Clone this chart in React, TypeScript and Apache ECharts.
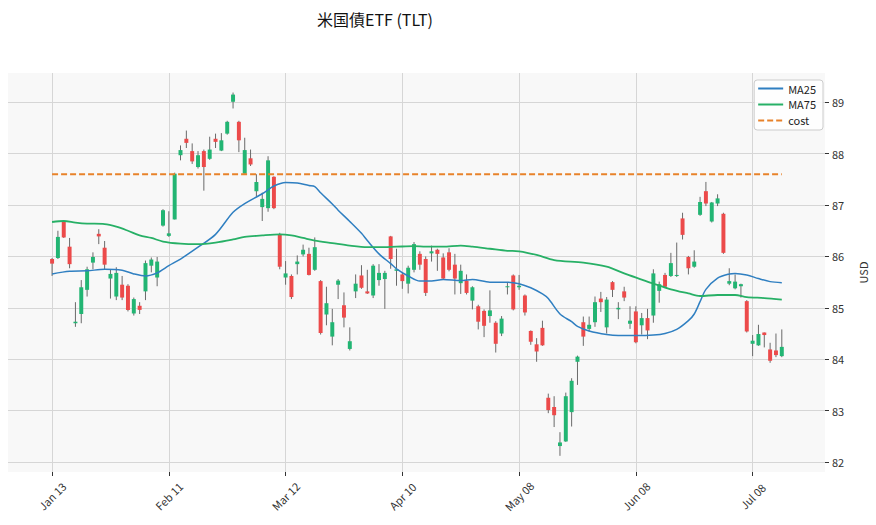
import React, { useEffect, useRef } from "react";
import * as echarts from "echarts";

// ---- data ----
const tickIdx = [0, 20, 40, 60, 80, 100, 120];
const tickLabels = ["Jan 13", "Feb 11", "Mar 12", "Apr 10", "May 08", "Jun 08", "Jul 08"];
const yTicks = [82, 83, 84, 85, 86, 87, 88, 89];

const opens = [
  85.95, 85.97, 86.67, 86.19, 84.70, 84.88, 85.35, 85.88, 86.44, 86.17,
  85.57, 85.22, 85.45, 85.43, 84.89, 85.04, 85.32, 85.82, 85.59, 86.60,
  86.40, 86.72, 87.97, 88.29, 88.05, 87.74, 88.05, 87.90, 88.29, 88.06,
  88.39, 89.01, 88.62, 87.61, 87.91, 87.27, 86.96, 86.94, 87.55, 86.43,
  85.59, 85.62, 85.85, 86.04, 86.05, 85.74, 85.52, 84.87, 84.44, 85.45,
  85.05, 84.20, 85.32, 85.63, 85.32, 85.24, 85.54, 85.56, 86.39, 85.72,
  85.65, 85.47, 85.74, 86.05, 85.95, 86.06, 86.13, 85.98, 86.08, 85.84,
  85.48, 85.53, 85.14, 85.03, 84.94, 84.84, 84.71, 84.50, 85.40, 85.63,
  85.40, 85.24, 84.55, 84.29, 84.61, 83.25, 83.07, 82.31, 82.40, 82.97,
  83.95, 84.72, 84.59, 84.72, 85.18, 84.62, 85.50, 84.97, 85.32, 84.69,
  84.93, 84.66, 84.80, 84.85, 85.33, 85.64, 85.62, 85.62, 86.74, 85.99,
  85.80, 86.81, 87.27, 86.68, 87.03, 86.83, 85.47, 85.38, 85.42, 85.13,
  84.30, 84.27, 84.52, 84.19, 84.17, 84.06,
];
const highs = [
  85.97, 86.50, 86.69, 86.36, 85.11, 85.54, 85.80, 86.08, 86.53, 86.30,
  85.75, 85.79, 85.62, 85.46, 85.20, 85.11, 85.92, 85.98, 85.99, 86.92,
  86.88, 87.63, 88.16, 88.45, 88.20, 88.05, 88.08, 88.33, 88.39, 88.40,
  88.64, 89.19, 88.64, 88.31, 88.08, 87.60, 87.24, 87.95, 87.56, 86.46,
  85.91, 85.65, 86.02, 86.23, 86.17, 86.37, 85.54, 85.41, 84.98, 85.56,
  85.30, 84.62, 85.65, 85.83, 85.74, 85.85, 85.85, 85.72, 86.40, 86.15,
  85.69, 85.82, 86.28, 86.10, 86.00, 86.21, 86.15, 86.06, 86.16, 86.05,
  85.84, 85.65, 85.42, 85.06, 84.97, 85.34, 84.74, 84.84, 85.50, 85.65,
  85.64, 85.26, 84.56, 84.41, 84.75, 83.33, 83.28, 82.58, 83.35, 83.63,
  84.07, 84.83, 84.83, 85.22, 85.31, 85.21, 85.52, 85.11, 85.41, 85.03,
  85.03, 84.90, 84.98, 85.75, 85.51, 85.68, 86.07, 86.27, 86.85, 86.01,
  86.12, 87.16, 87.45, 87.06, 87.21, 86.85, 85.77, 85.65, 85.47, 85.15,
  84.47, 84.67, 84.52, 84.32, 84.50, 84.58,
];
const lows = [
  85.62, 85.95, 86.36, 85.77, 84.63, 84.70, 85.22, 85.75, 86.24, 85.75,
  85.18, 85.15, 85.15, 84.93, 84.85, 84.88, 85.15, 85.69, 85.42, 86.58,
  86.38, 86.72, 87.87, 88.11, 87.80, 87.71, 87.28, 87.88, 88.11, 88.05,
  88.37, 88.88, 88.03, 87.61, 87.76, 87.16, 86.69, 86.87, 86.92, 85.75,
  85.45, 85.17, 85.65, 86.00, 85.63, 85.72, 84.48, 84.66, 84.27, 85.17,
  84.62, 84.17, 85.19, 85.37, 85.27, 85.19, 85.43, 84.98, 85.76, 85.43,
  85.37, 85.28, 85.69, 85.74, 85.23, 85.90, 85.72, 85.55, 85.71, 85.26,
  85.27, 85.26, 84.97, 84.58, 84.43, 84.71, 84.13, 84.45, 85.26, 84.95,
  85.35, 84.85, 84.28, 83.95, 84.26, 82.95, 82.68, 82.12, 82.39, 82.69,
  83.50, 84.26, 84.54, 84.63, 84.92, 84.50, 85.21, 84.78, 85.13, 84.59,
  84.31, 84.48, 84.39, 84.71, 85.10, 85.39, 85.60, 85.60, 86.33, 85.65,
  85.78, 86.79, 86.98, 86.66, 86.98, 86.05, 85.44, 85.36, 85.20, 84.52,
  84.06, 84.26, 84.23, 83.93, 84.04, 84.04,
];
const closes = [
  85.86, 86.38, 86.37, 85.85, 84.73, 85.40, 85.75, 85.99, 86.39, 85.84,
  85.66, 85.68, 85.20, 84.96, 85.17, 84.96, 85.87, 85.94, 85.90, 86.90,
  86.45, 87.61, 88.07, 88.21, 87.85, 87.97, 87.74, 88.08, 88.23, 88.26,
  88.62, 89.15, 88.26, 88.07, 87.79, 87.45, 87.12, 87.87, 86.94, 85.80,
  85.67, 85.21, 85.90, 86.13, 85.64, 86.18, 84.51, 85.09, 84.72, 85.53,
  84.81, 84.35, 85.47, 85.39, 85.28, 85.82, 85.68, 85.68, 85.95, 85.75,
  85.52, 85.78, 86.24, 85.84, 85.29, 86.10, 86.05, 85.57, 85.74, 85.57,
  85.72, 85.29, 85.40, 84.73, 84.65, 84.95, 84.30, 84.79, 85.42, 84.97,
  85.43, 84.91, 84.34, 84.15, 84.27, 83.01, 82.91, 82.38, 83.28, 83.58,
  84.05, 84.44, 84.67, 85.11, 85.11, 85.16, 85.35, 85.00, 85.20, 84.75,
  84.33, 84.80, 84.56, 85.67, 85.46, 85.41, 85.87, 85.64, 86.42, 85.77,
  85.90, 87.06, 87.03, 87.05, 87.13, 86.07, 85.52, 85.51, 85.46, 84.54,
  84.36, 84.49, 84.47, 83.97, 84.08, 84.24,
];

// moving averages read at sampled positions (trading-day index)
const ma25Idx = [0, 3, 6, 9, 12, 14, 16, 18, 20, 22, 25, 28, 31, 33, 36, 38, 40, 42, 44, 45, 46, 48, 49, 51, 53, 54, 56, 58, 59, 61, 63, 65, 67, 70, 72, 75, 78, 80, 82, 84, 85, 87, 89, 90, 92, 95, 97, 100, 103, 105, 107, 109, 110, 111, 112, 114, 116, 117, 119, 121, 123, 125];
const ma25Val = [85.66, 85.71, 85.72, 85.75, 85.73, 85.66, 85.62, 85.68, 85.82, 85.95, 86.18, 86.43, 86.86, 87.03, 87.22, 87.37, 87.44, 87.43, 87.38, 87.36, 87.24, 87.02, 86.90, 86.68, 86.45, 86.31, 86.05, 85.86, 85.76, 85.62, 85.52, 85.52, 85.55, 85.53, 85.55, 85.50, 85.50, 85.47, 85.39, 85.27, 85.18, 84.88, 84.73, 84.64, 84.55, 84.48, 84.46, 84.46, 84.47, 84.50, 84.58, 84.75, 84.88, 85.12, 85.36, 85.58, 85.66, 85.67, 85.64, 85.57, 85.51, 85.49];
const ma75Idx = [0, 2, 4, 6, 9, 11, 13, 15, 17, 19, 22, 25, 28, 31, 33, 36, 39, 41, 43, 45, 48, 51, 54, 56, 59, 62, 64, 67, 70, 72, 75, 78, 80, 83, 86, 91, 95, 98, 101, 103, 106, 109, 111, 114, 117, 119, 122, 125];
const ma75Val = [86.67, 86.69, 86.66, 86.64, 86.63, 86.58, 86.50, 86.41, 86.36, 86.29, 86.25, 86.24, 86.27, 86.33, 86.38, 86.41, 86.43, 86.41, 86.36, 86.31, 86.26, 86.21, 86.18, 86.18, 86.19, 86.20, 86.19, 86.19, 86.21, 86.19, 86.15, 86.11, 86.10, 86.03, 85.93, 85.88, 85.80, 85.67, 85.55, 85.47, 85.36, 85.28, 85.23, 85.25, 85.25, 85.21, 85.19, 85.16];
const costValue = 87.6;

const UP = "#22b573";
const DOWN = "#ec4a4a";
const FONT = '"Noto Sans CJK JP", "Noto Sans", sans-serif';

export default function App() {
  const ref = useRef<HTMLDivElement>(null);

  useEffect(() => {
    if (!ref.current) return;
    const chart = echarts.init(ref.current, undefined, { renderer: "svg" });
    const lastIdx = opens.length - 1;
    const candleData = opens.map((o, i) => [i, o, closes[i], lows[i], highs[i]]);

    const option: any = {
      animation: false,
      backgroundColor: "#ffffff",
      textStyle: { fontFamily: FONT },
      title: {
        text: "米国債ETF (TLT)",
        left: 312,
        top: 6,
        textStyle: { fontSize: 16, fontWeight: "normal", color: "#111", fontFamily: FONT },
      },
      legend: {
        data: ["MA25", "MA75", "cost"],
        orient: "vertical",
        right: 53,
        top: 80,
        itemWidth: 25,
        itemHeight: 12,
        itemGap: 5,
        padding: [3, 7, 4, 3],
        backgroundColor: "rgba(255,255,255,0.85)",
        borderColor: "#cccccc",
        borderWidth: 1,
        borderRadius: 3,
        itemStyle: { color: "transparent", borderColor: "transparent", borderWidth: 0 },
        textStyle: { fontSize: 11, color: "#222", fontFamily: FONT },
      },
      grid: {
        left: 8,
        right: 47,
        top: 73,
        bottom: 53,
        show: true,
        backgroundColor: "#f8f8f8",
        borderWidth: 0,
      },
      xAxis: {
        type: "value",
        min: -7.55,
        max: 132.4,
        axisLine: { show: false, onZero: false },
        axisTick: {
          show: true,
          customValues: tickIdx,
          length: 4,
          lineStyle: { color: "#333" },
        },
        axisLabel: {
          customValues: tickIdx,
          formatter: (v: number) => {
            const k = tickIdx.indexOf(Math.round(v));
            return k >= 0 ? tickLabels[k] : "";
          },
          rotate: 45,
          align: "center",
          verticalAlign: "middle",
          margin: 24,
          fontSize: 11,
          color: "#333",
          fontFamily: FONT,
        },
        splitLine: { show: true, lineStyle: { color: "#d6d6d6", width: 1 } },
      },
      yAxis: {
        type: "value",
        position: "right",
        min: 81.805,
        max: 89.57,
        name: "USD",
        nameLocation: "middle",
        nameRotate: 90,
        nameGap: 32,
        nameTextStyle: { fontSize: 11, color: "#333", fontFamily: FONT },
        axisLine: { show: false, onZero: false },
        axisTick: {
          show: true,
          customValues: yTicks,
          length: 4,
          lineStyle: { color: "#333" },
        },
        axisLabel: {
          customValues: yTicks,
          formatter: (v: number) => String(Math.round(v)),
          margin: 7,
          fontSize: 11,
          color: "#333",
          fontFamily: FONT,
        },
        splitLine: { show: true, lineStyle: { color: "#d6d6d6", width: 1 } },
      },
      series: [
        {
          type: "custom",
          name: "TLT",
          data: candleData,
          encode: { x: 0, y: [1, 2, 3, 4] },
          z: 2,
          renderItem: (params: any, api: any) => {
            const x = api.value(0);
            const o = api.value(1);
            const c = api.value(2);
            const l = api.value(3);
            const h = api.value(4);
            const pO = api.coord([x, o]);
            const pC = api.coord([x, c]);
            const pL = api.coord([x, l]);
            const pH = api.coord([x, h]);
            const w = api.size([1, 0])[0] * 0.68;
            const col = c >= o ? UP : DOWN;
            const top = Math.min(pO[1], pC[1]);
            const hgt = Math.max(Math.abs(pO[1] - pC[1]), 1);
            const cx = pO[0];
            return {
              type: "group",
              children: [
                {
                  type: "line",
                  shape: { x1: cx, y1: pH[1], x2: cx, y2: pL[1] },
                  style: { stroke: "#6a6a6a", lineWidth: 1 },
                },
                {
                  type: "rect",
                  shape: { x: cx - w / 2, y: top, width: w, height: hgt },
                  style: { fill: col, stroke: null },
                },
              ],
            };
          },
        },
        {
          type: "line",
          name: "MA25",
          data: ma25Idx.map((x, k) => [x, ma25Val[k]]),
          symbol: "none",
          showSymbol: false,
          smooth: 0.3,
          z: 3,
          lineStyle: { color: "#2f7fc1", width: 1.5 },
          itemStyle: { color: "#2f7fc1" },
        },
        {
          type: "line",
          name: "MA75",
          data: ma75Idx.map((x, k) => [x, ma75Val[k]]),
          symbol: "none",
          showSymbol: false,
          smooth: 0.3,
          z: 3,
          lineStyle: { color: "#27b066", width: 1.8 },
          itemStyle: { color: "#27b066" },
        },
        {
          type: "line",
          name: "cost",
          data: [
            [0, costValue],
            [lastIdx, costValue],
          ],
          symbol: "none",
          showSymbol: false,
          z: 3,
          lineStyle: { color: "#e8822a", width: 1.8, type: [6, 3] },
          itemStyle: { color: "#e8822a" },
        },
      ],
    };

    chart.setOption(option);
    return () => chart.dispose();
  }, []);

  return (
    <div
      ref={ref}
      style={{ position: "fixed", left: 0, top: 0, width: 876, height: 525 }}
    />
  );
}
